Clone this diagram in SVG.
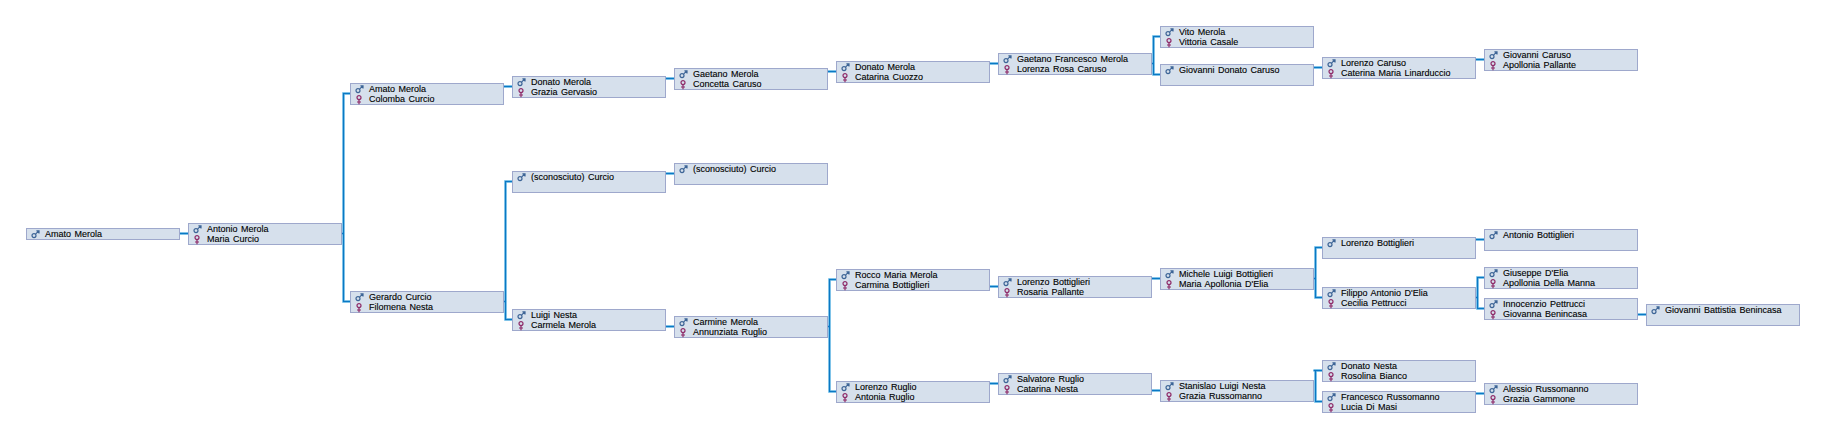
<svg xmlns="http://www.w3.org/2000/svg" width="1826" height="439" viewBox="0 0 1826 439">
<style>
.b{fill:#d6e0ec;stroke:#9ea8cc;stroke-width:1}
text{font-family:"Liberation Sans",Arial,sans-serif;font-size:9px;fill:#000;stroke:#000;stroke-width:.12;word-spacing:1px;transform:translateY(-.8px)}
.halo{fill:none;stroke:#a8dcf5;stroke-width:3}
.c{fill:none;stroke:#0a78c4;stroke-width:1.5}
.m{fill:none;stroke:#3c6496;stroke-width:1.2}
.f{fill:none;stroke:#8e2a68;stroke-width:1.2}
</style>
<defs>
<g id="male"><circle class="m" cx="3" cy="5.6" r="2"/><path class="m" d="M4.5 4.1L7.8 .9M5.4 .8H8V3.4"/></g>
<g id="female"><circle class="f" cx="4" cy="3.6" r="2"/><path class="f" d="M4 5.6V10.3M2 8H6"/></g>
</defs>
<g id="connectors">
<path class="halo" d="M179.5 233.5H188.5M341.5 233.5H343.5V93.5H350.5M343.5 233.5V301.5H350.5M503.5 86.5H512.5M665.5 78.5H674.5M827.5 71.5H836.5M989.5 63.5H998.5M1151.5 63.5H1153.5V36.5H1160.5M1153.5 63.5V74.5H1160.5M1313.5 67.5H1322.5M1475.5 59.5H1484.5M503.5 301.5H505.5V181.5H512.5M505.5 301.5V319.5H512.5M665.5 173.5H674.5M665.5 326.5H674.5M827.5 326.5H829.5V279.5H836.5M829.5 326.5V391.5H836.5M989.5 286.5H998.5M989.5 383.5H998.5M1151.5 278.5H1160.5M1151.5 390.5H1160.5M1313.5 278.5H1315.5V247.5H1322.5M1315.5 278.5V297.5H1322.5M1313.5 370.5H1315.5M1315.5 370.5V401.5H1322.5M1315.5 370.5H1322.5M1475.5 239.5H1484.5M1475.5 297.5H1477.5V277.5H1484.5M1477.5 297.5V308.5H1484.5M1475.5 393.5H1484.5M1637.5 314.5H1646.5"/>
<path class="c" d="M179.5 233.5H188.5M341.5 233.5H343.5V93.5H350.5M343.5 233.5V301.5H350.5M503.5 86.5H512.5M665.5 78.5H674.5M827.5 71.5H836.5M989.5 63.5H998.5M1151.5 63.5H1153.5V36.5H1160.5M1153.5 63.5V74.5H1160.5M1313.5 67.5H1322.5M1475.5 59.5H1484.5M503.5 301.5H505.5V181.5H512.5M505.5 301.5V319.5H512.5M665.5 173.5H674.5M665.5 326.5H674.5M827.5 326.5H829.5V279.5H836.5M829.5 326.5V391.5H836.5M989.5 286.5H998.5M989.5 383.5H998.5M1151.5 278.5H1160.5M1151.5 390.5H1160.5M1313.5 278.5H1315.5V247.5H1322.5M1315.5 278.5V297.5H1322.5M1313.5 370.5H1315.5M1315.5 370.5V401.5H1322.5M1315.5 370.5H1322.5M1475.5 239.5H1484.5M1475.5 297.5H1477.5V277.5H1484.5M1477.5 297.5V308.5H1484.5M1475.5 393.5H1484.5M1637.5 314.5H1646.5"/>
</g>
<g id="n1"><rect class="b" x="26.5" y="228.5" width="153" height="11"/><use href="#male" x="31" y="230"/><text x="45" y="237.5">Amato Merola</text></g>
<g id="n2"><rect class="b" x="188.5" y="223.5" width="153" height="21"/><use href="#male" x="193" y="225"/><text x="207" y="232.5">Antonio Merola</text><use href="#female" x="193" y="234"/><text x="207" y="242.5">Maria Curcio</text></g>
<g id="n3"><rect class="b" x="350.5" y="83.5" width="153" height="21"/><use href="#male" x="355" y="85"/><text x="369" y="92.5">Amato Merola</text><use href="#female" x="355" y="94"/><text x="369" y="102.5">Colomba Curcio</text></g>
<g id="n4"><rect class="b" x="350.5" y="291.5" width="153" height="21"/><use href="#male" x="355" y="293"/><text x="369" y="300.5">Gerardo Curcio</text><use href="#female" x="355" y="302"/><text x="369" y="310.5">Filomena Nesta</text></g>
<g id="n5"><rect class="b" x="512.5" y="76.5" width="153" height="21"/><use href="#male" x="517" y="78"/><text x="531" y="85.5">Donato Merola</text><use href="#female" x="517" y="87"/><text x="531" y="95.5">Grazia Gervasio</text></g>
<g id="n6"><rect class="b" x="512.5" y="171.5" width="153" height="21"/><use href="#male" x="517" y="173"/><text x="531" y="180.5">(sconosciuto) Curcio</text></g>
<g id="n7"><rect class="b" x="512.5" y="309.5" width="153" height="21"/><use href="#male" x="517" y="311"/><text x="531" y="318.5">Luigi Nesta</text><use href="#female" x="517" y="320"/><text x="531" y="328.5">Carmela Merola</text></g>
<g id="n8"><rect class="b" x="674.5" y="68.5" width="153" height="21"/><use href="#male" x="679" y="70"/><text x="693" y="77.5">Gaetano Merola</text><use href="#female" x="679" y="79"/><text x="693" y="87.5">Concetta Caruso</text></g>
<g id="n9"><rect class="b" x="674.5" y="163.5" width="153" height="21"/><use href="#male" x="679" y="165"/><text x="693" y="172.5">(sconosciuto) Curcio</text></g>
<g id="n10"><rect class="b" x="674.5" y="316.5" width="153" height="21"/><use href="#male" x="679" y="318"/><text x="693" y="325.5">Carmine Merola</text><use href="#female" x="679" y="327"/><text x="693" y="335.5">Annunziata Ruglio</text></g>
<g id="n11"><rect class="b" x="836.5" y="61.5" width="153" height="21"/><use href="#male" x="841" y="63"/><text x="855" y="70.5">Donato Merola</text><use href="#female" x="841" y="72"/><text x="855" y="80.5">Catarina Cuozzo</text></g>
<g id="n12"><rect class="b" x="836.5" y="269.5" width="153" height="21"/><use href="#male" x="841" y="271"/><text x="855" y="278.5">Rocco Maria Merola</text><use href="#female" x="841" y="280"/><text x="855" y="288.5">Carmina Bottiglieri</text></g>
<g id="n13"><rect class="b" x="836.5" y="381.5" width="153" height="21"/><use href="#male" x="841" y="383"/><text x="855" y="390.5">Lorenzo Ruglio</text><use href="#female" x="841" y="392"/><text x="855" y="400.5">Antonia Ruglio</text></g>
<g id="n14"><rect class="b" x="998.5" y="53.5" width="153" height="21"/><use href="#male" x="1003" y="55"/><text x="1017" y="62.5">Gaetano Francesco Merola</text><use href="#female" x="1003" y="64"/><text x="1017" y="72.5">Lorenza Rosa Caruso</text></g>
<g id="n15"><rect class="b" x="998.5" y="276.5" width="153" height="21"/><use href="#male" x="1003" y="278"/><text x="1017" y="285.5">Lorenzo Bottiglieri</text><use href="#female" x="1003" y="287"/><text x="1017" y="295.5">Rosaria Pallante</text></g>
<g id="n16"><rect class="b" x="998.5" y="373.5" width="153" height="21"/><use href="#male" x="1003" y="375"/><text x="1017" y="382.5">Salvatore Ruglio</text><use href="#female" x="1003" y="384"/><text x="1017" y="392.5">Catarina Nesta</text></g>
<g id="n17"><rect class="b" x="1160.5" y="26.5" width="153" height="21"/><use href="#male" x="1165" y="28"/><text x="1179" y="35.5">Vito Merola</text><use href="#female" x="1165" y="37"/><text x="1179" y="45.5">Vittoria Casale</text></g>
<g id="n18"><rect class="b" x="1160.5" y="64.5" width="153" height="21"/><use href="#male" x="1165" y="66"/><text x="1179" y="73.5">Giovanni Donato Caruso</text></g>
<g id="n19"><rect class="b" x="1160.5" y="268.5" width="153" height="21"/><use href="#male" x="1165" y="270"/><text x="1179" y="277.5">Michele Luigi Bottiglieri</text><use href="#female" x="1165" y="279"/><text x="1179" y="287.5">Maria Apollonia D'Elia</text></g>
<g id="n20"><rect class="b" x="1160.5" y="380.5" width="153" height="21"/><use href="#male" x="1165" y="382"/><text x="1179" y="389.5">Stanislao Luigi Nesta</text><use href="#female" x="1165" y="391"/><text x="1179" y="399.5">Grazia Russomanno</text></g>
<g id="n21"><rect class="b" x="1322.5" y="57.5" width="153" height="21"/><use href="#male" x="1327" y="59"/><text x="1341" y="66.5">Lorenzo Caruso</text><use href="#female" x="1327" y="68"/><text x="1341" y="76.5">Caterina Maria Linarduccio</text></g>
<g id="n22"><rect class="b" x="1322.5" y="237.5" width="153" height="21"/><use href="#male" x="1327" y="239"/><text x="1341" y="246.5">Lorenzo Bottiglieri</text></g>
<g id="n23"><rect class="b" x="1322.5" y="287.5" width="153" height="21"/><use href="#male" x="1327" y="289"/><text x="1341" y="296.5">Filippo Antonio D'Elia</text><use href="#female" x="1327" y="298"/><text x="1341" y="306.5">Cecilia Pettrucci</text></g>
<g id="n24"><rect class="b" x="1322.5" y="360.5" width="153" height="21"/><use href="#male" x="1327" y="362"/><text x="1341" y="369.5">Donato Nesta</text><use href="#female" x="1327" y="371"/><text x="1341" y="379.5">Rosolina Bianco</text></g>
<g id="n25"><rect class="b" x="1322.5" y="391.5" width="153" height="21"/><use href="#male" x="1327" y="393"/><text x="1341" y="400.5">Francesco Russomanno</text><use href="#female" x="1327" y="402"/><text x="1341" y="410.5">Lucia Di Masi</text></g>
<g id="n26"><rect class="b" x="1484.5" y="49.5" width="153" height="21"/><use href="#male" x="1489" y="51"/><text x="1503" y="58.5">Giovanni Caruso</text><use href="#female" x="1489" y="60"/><text x="1503" y="68.5">Apollonia Pallante</text></g>
<g id="n27"><rect class="b" x="1484.5" y="229.5" width="153" height="21"/><use href="#male" x="1489" y="231"/><text x="1503" y="238.5">Antonio Bottiglieri</text></g>
<g id="n28"><rect class="b" x="1484.5" y="267.5" width="153" height="21"/><use href="#male" x="1489" y="269"/><text x="1503" y="276.5">Giuseppe D'Elia</text><use href="#female" x="1489" y="278"/><text x="1503" y="286.5">Apollonia Della Manna</text></g>
<g id="n29"><rect class="b" x="1484.5" y="298.5" width="153" height="21"/><use href="#male" x="1489" y="300"/><text x="1503" y="307.5">Innocenzio Pettrucci</text><use href="#female" x="1489" y="309"/><text x="1503" y="317.5">Giovanna Benincasa</text></g>
<g id="n30"><rect class="b" x="1484.5" y="383.5" width="153" height="21"/><use href="#male" x="1489" y="385"/><text x="1503" y="392.5">Alessio Russomanno</text><use href="#female" x="1489" y="394"/><text x="1503" y="402.5">Grazia Gammone</text></g>
<g id="n31"><rect class="b" x="1646.5" y="304.5" width="153" height="21"/><use href="#male" x="1651" y="306"/><text x="1665" y="313.5">Giovanni Battistia Benincasa</text></g>
</svg>
